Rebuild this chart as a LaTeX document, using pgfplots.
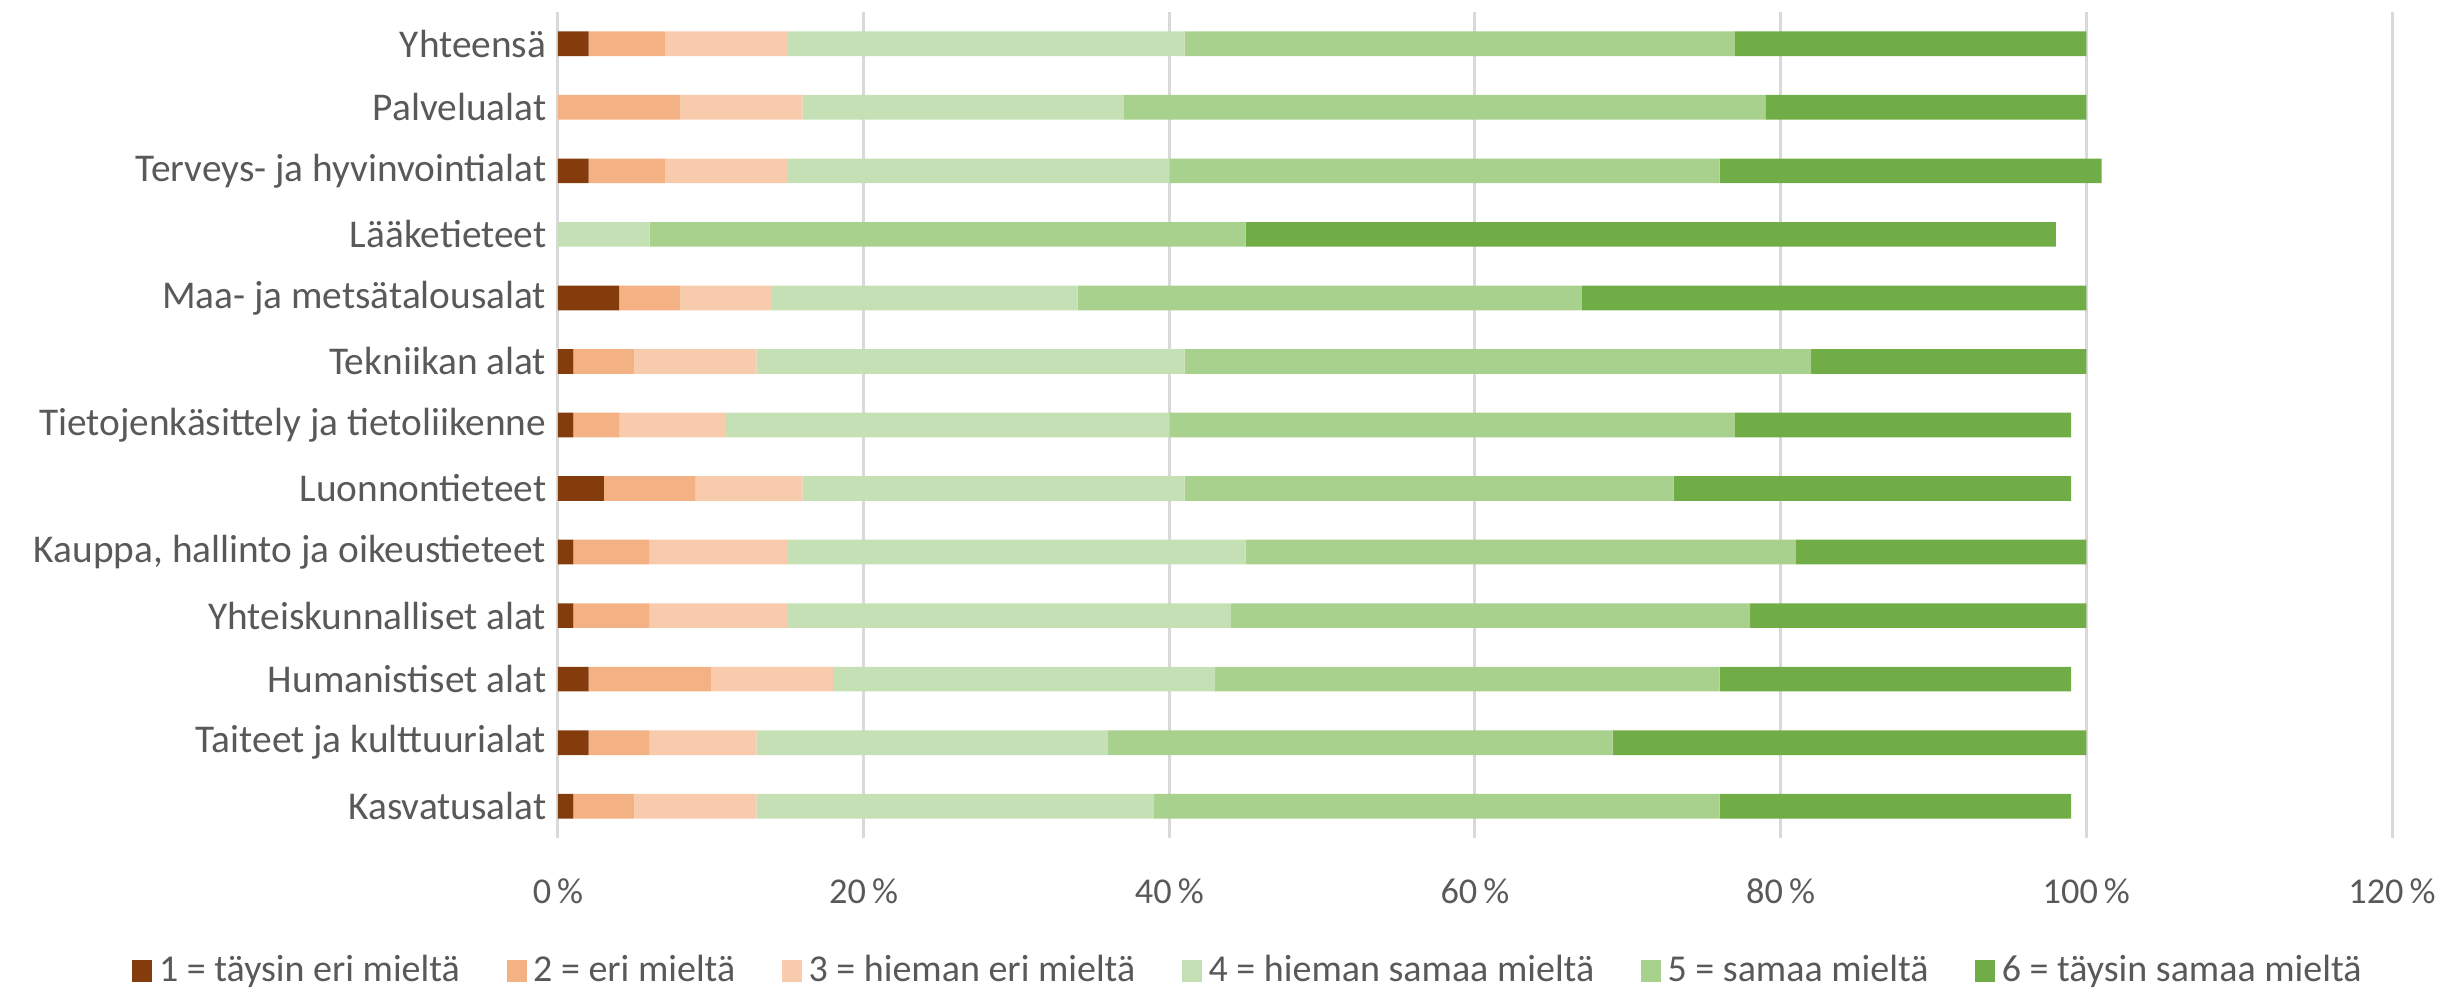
\documentclass[border=0pt]{standalone}
\usepackage{fontspec}
\setmainfont{Carlito}
\usepackage{pgfplots}
\pgfplotsset{compat=1.18}
\definecolor{c1}{HTML}{843C0C}
\definecolor{c2}{HTML}{F4B183}
\definecolor{c3}{HTML}{F8CBAD}
\definecolor{c4}{HTML}{C5E0B4}
\definecolor{c5}{HTML}{A9D18E}
\definecolor{c6}{HTML}{70AD47}
\definecolor{txt}{HTML}{595959}
\definecolor{grd}{HTML}{D9D9D9}
\begin{document}
\begin{tikzpicture}[x=1pt,y=1pt]
\useasboundingbox (-167.4,-46.2) rectangle (567.0,251.4);
\begin{axis}[
  at={(0,0)}, anchor=south west,
  scale only axis, width=550.2pt, height=247.8pt,
  xbar stacked, bar width=7.4pt,
  xmin=0, xmax=120, ymin=-0.5, ymax=12.5,
  xtick={0,20,40,60,80,100,120},
  xticklabels={0\,\%,20\,\%,40\,\%,60\,\%,80\,\%,100\,\%,120\,\%},
  ytick={0,...,12},
  yticklabels={Kasvatusalat,Taiteet ja kulttuurialat,Humanistiset alat,Yhteiskunnalliset alat,{Kauppa, hallinto ja oikeustieteet},Luonnontieteet,Tietojenkäsittely ja tietoliikenne,Tekniikan alat,Maa- ja metsätalousalat,Lääketieteet,Terveys- ja hyvinvointialat,Palvelualat,Yhteensä},
  axis line style={draw=none},
  major tick length=0pt,
  xmajorgrids, grid style={draw=grd, line width=0.9pt},
  tick label style={text=txt},
  xticklabel style={font=\fontsize{10.9}{13}\selectfont, yshift=-8.7pt},
  yticklabel style={font=\fontsize{11.8}{14}\selectfont},
  legend style={at={(0.3775,-0.161)}, anchor=center, draw=none, legend columns=6,
    font=\fontsize{11.4}{14}\selectfont, text=txt,
    /tikz/every even column/.append style={column sep=12pt}},
  legend image code/.code={\fill[#1] (0pt,-3.3pt) rectangle (6pt,3.3pt);},
]
\addplot[fill=c1, draw=none] coordinates {(1,0) (2,1) (2,2) (1,3) (1,4) (3,5) (1,6) (1,7) (4,8) (0,9) (2,10) (0,11) (2,12)};
\addplot[fill=c2, draw=none] coordinates {(4,0) (4,1) (8,2) (5,3) (5,4) (6,5) (3,6) (4,7) (4,8) (0,9) (5,10) (8,11) (5,12)};
\addplot[fill=c3, draw=none] coordinates {(8,0) (7,1) (8,2) (9,3) (9,4) (7,5) (7,6) (8,7) (6,8) (0,9) (8,10) (8,11) (8,12)};
\addplot[fill=c4, draw=none] coordinates {(26,0) (23,1) (25,2) (29,3) (30,4) (25,5) (29,6) (28,7) (20,8) (6,9) (25,10) (21,11) (26,12)};
\addplot[fill=c5, draw=none] coordinates {(37,0) (33,1) (33,2) (34,3) (36,4) (32,5) (37,6) (41,7) (33,8) (39,9) (36,10) (42,11) (36,12)};
\addplot[fill=c6, draw=none] coordinates {(23,0) (31,1) (23,2) (22,3) (19,4) (26,5) (22,6) (18,7) (33,8) (53,9) (25,10) (21,11) (23,12)};
\legend{1 = täysin eri mieltä, 2 = eri mieltä, 3 = hieman eri mieltä, 4 = hieman samaa mieltä, 5 = samaa mieltä, 6 = täysin samaa mieltä}
\end{axis}
\end{tikzpicture}
\end{document}
